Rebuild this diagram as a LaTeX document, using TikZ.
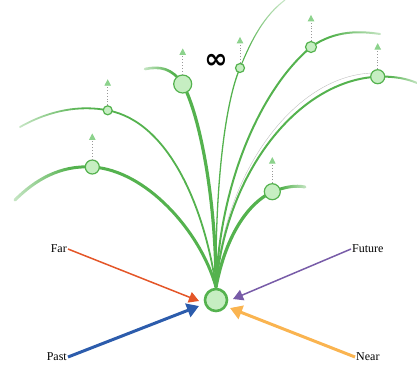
\documentclass[tikz,border=0pt]{standalone}
\usepackage{fontspec}
\setmainfont{Liberation Serif}
\newfontfamily\symfnt{DejaVu Sans}
\usetikzlibrary{arrows.meta,fadings}
\definecolor{gline}{RGB}{84,178,78}
\definecolor{gfill}{RGB}{198,238,194}
\definecolor{gtip}{RGB}{140,210,140}
\definecolor{cfar}{RGB}{228,86,40}
\definecolor{cfut}{RGB}{120,92,168}
\definecolor{cpast}{RGB}{44,92,172}
\definecolor{cnear}{RGB}{250,180,80}
\newcommand{\lblfont}{\fontsize{12}{14}\selectfont}
\newcommand{\inffont}{\symfnt\bfseries\fontsize{28}{28}\selectfont}
\pgfdeclarehorizontalshading{tailWsh}{100bp}{color(0bp)=(black); color(8bp)=(black); color(60bp)=(white); color(100bp)=(white)}
\pgfdeclarehorizontalshading{tailEsh}{100bp}{color(0bp)=(white); color(40bp)=(white); color(92bp)=(black); color(100bp)=(black)}
\pgfdeclareverticalshading{tailNsh}{100bp}{color(0bp)=(white); color(40bp)=(white); color(92bp)=(black); color(100bp)=(black)}
\tikzfading[name=tailW, shading=tailWsh]
\tikzfading[name=tailE, shading=tailEsh]
\tikzfading[name=tailN, shading=tailNsh]
\begin{document}
\begin{tikzpicture}[x=1pt,y=-1pt,
  leaf/.style={circle,draw=gline,fill=gfill,line width=1.2pt,inner sep=0pt},
  hub/.style={circle,draw=gline,fill=gfill,line width=2.6pt,inner sep=0pt,minimum size=22pt},
  stem/.style={draw=gline,line cap=round},
  upar/.style={draw=black!40,dotted,line width=0.9pt,-{Triangle[width=6.5pt,length=6.5pt,color=gtip]}},
  lbl/.style={font=\lblfont,inner sep=1pt}
]
\useasboundingbox (0,0) rectangle (417,368);

\coordinate (S) at (216,287);
\coordinate (Hc) at (216,300);

\coordinate (A) at (182.7,84);
\coordinate (B) at (240,68);
\coordinate (C) at (311,47);
\coordinate (D) at (377.7,76.7);
\coordinate (E) at (107.7,110.3);
\coordinate (F) at (92.3,167);
\coordinate (G) at (272.3,191.7);

\coordinate (Ae) at (145,69);
\coordinate (Be) at (285,0);
\coordinate (Ce) at (380,34);
\coordinate (De) at (417,83);
\coordinate (Ee) at (20,127);
\coordinate (Fe) at (15,200);
\coordinate (Ge) at (305,187);

% stems
\draw[black!25,line width=0.4pt] (S) .. controls (223,172) and (296,74) .. (374,73);
\draw[stem,line width=3.2pt] (S) .. controls (216,200) and (200,115) .. (A);
\draw[stem,line width=1.3pt] (S) .. controls (215,180) and (226,100) .. (B);
\draw[stem,line width=2pt] (S) .. controls (220,180) and (262,88) .. (C);
\draw[stem,line width=2pt] (S) .. controls (226,170) and (300,80) .. (D);
\draw[stem,line width=1.8pt] (S) .. controls (205,210) and (170,122) .. (E);
\draw[stem,line width=3pt] (S) .. controls (200,230) and (145,170) .. (F);
\draw[stem,line width=3.2pt] (S) .. controls (225,240) and (245,205) .. (G);

% fading tails
\draw[stem,line width=2.6pt,path fading=tailW] (A) .. controls (172,68) and (160,66) .. (Ae);
\draw[stem,line width=1.1pt,path fading=tailN] (B) .. controls (252,38) and (265,15) .. (Be);
\draw[stem,line width=2pt,path fading=tailE] (C) .. controls (335,30) and (360,31) .. (Ce);
\draw[stem,line width=2pt,path fading=tailE] (D) .. controls (395,76) and (408,79) .. (De);
\draw[stem,line width=1.8pt,path fading=tailW] (E) .. controls (80,105) and (50,110) .. (Ee);
\draw[stem,line width=3pt,path fading=tailW] (F) .. controls (60,165) and (35,180) .. (Fe);
\draw[stem,line width=3pt,path fading=tailE] (G) .. controls (285,187) and (295,185) .. (Ge);

% leaves
\node[leaf,minimum size=18pt] (nA) at (A) {};
\node[leaf,minimum size=9pt] (nB) at (B) {};
\node[leaf,minimum size=11pt] (nC) at (C) {};
\node[leaf,minimum size=14pt] (nD) at (D) {};
\node[leaf,minimum size=9pt] (nE) at (E) {};
\node[leaf,minimum size=14pt] (nF) at (F) {};
\node[leaf,minimum size=16pt] (nG) at (G) {};
\node[hub] (H) at (Hc) {};

% up arrows
\foreach \n in {nA,nB,nC,nD,nE,nF,nG}{
  \draw[upar] (\n.north) -- ++(0,-26);
}

% infinity
\node[font=\inffont,inner sep=0pt] (inf) at (216,61) {∞};

% side arrows
\node[lbl,anchor=east] (far) at (68,249) {Far};
\node[lbl,anchor=west] (fut) at (351,249) {Future};
\node[lbl,anchor=east] (past) at (68,357) {Past};
\node[lbl,anchor=west] (near) at (355,357) {Near};

\coordinate (tfar) at (199,301);
\coordinate (tfut) at (233,299);
\coordinate (tpast) at (199,306);
\coordinate (tnear) at (230,308);

\draw[cfar,line width=1.5pt,-{Triangle[width=11pt,length=10pt]}] (far.east) -- (tfar);
\draw[cfut,line width=1.5pt,-{Triangle[width=11pt,length=10pt]}] (fut.west) -- (tfut);
\draw[cpast,line width=3pt,-{Triangle[width=14pt,length=12pt]}] (past.east) -- (tpast);
\draw[cnear,line width=3pt,-{Triangle[width=14pt,length=12pt]}] (near.west) -- (tnear);
\end{tikzpicture}
\end{document}
